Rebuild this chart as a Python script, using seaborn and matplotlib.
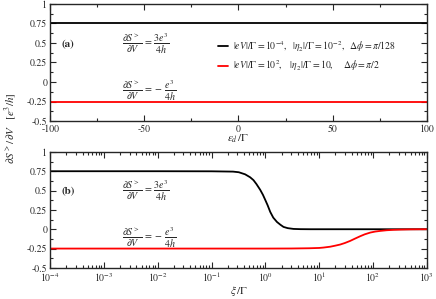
import numpy as np
import pandas as pd
import seaborn as sns
import matplotlib.pyplot as plt
from matplotlib.ticker import MultipleLocator, LogLocator, NullFormatter

# panel (a): flat lines vs eps_d / Gamma
eps = [-100, -50, 0, 50, 100]
a_black = [0.75, 0.75, 0.75, 0.75, 0.75]
a_red = [-0.25, -0.25, -0.25, -0.25, -0.25]
eps_ticks = [-100, -50, 0, 50, 100]

# panel (b): curves vs xi / Gamma
xi_black = [1e-4, 1e-3, 1e-2, 1e-1, 0.25, 0.32, 0.42, 0.52, 0.6, 0.68, 0.8, 0.9,
            1.0, 1.1, 1.23, 1.4, 1.64, 1.9, 2.17, 2.6, 3.33, 4.5, 7, 20, 1e2, 1e3]
b_black = [0.75, 0.75, 0.75, 0.749, 0.745, 0.737, 0.71, 0.672, 0.635, 0.585, 0.51, 0.445,
           0.375, 0.31, 0.224, 0.15, 0.094, 0.058, 0.03, 0.014, 0.004, 0.001, 0.0, 0.0, 0.0, 0.0]

xi_red = [1e-4, 1e-2, 1, 3, 6.5, 10, 12, 16, 20, 24.5, 30, 37.6, 46, 57.5, 70, 89,
          110, 135, 180, 240, 320, 490, 1e3]
b_red = [-0.25, -0.25, -0.25, -0.249, -0.246, -0.242, -0.237, -0.226, -0.212, -0.198,
         -0.178, -0.151, -0.122, -0.091, -0.066, -0.043, -0.03, -0.022, -0.013, -0.008,
         -0.005, -0.002, 0.0]

y_ticks = [-0.5, -0.25, 0, 0.25, 0.5, 0.75, 1]
y_labels = ['-0.5', '-0.25', '0', '0.25', '0.5', '0.75', '1']

sns.set_style('ticks')
plt.rcParams['font.family'] = ['STIXGeneral', 'DejaVu Serif']
plt.rcParams['mathtext.fontset'] = 'stix'
plt.rcParams['xtick.direction'] = 'in'
plt.rcParams['ytick.direction'] = 'in'
plt.rcParams['axes.linewidth'] = 1.0

fig = plt.figure(figsize=(4.36, 2.99), dpi=100)
ax1 = fig.add_axes([0.115, 0.595, 0.864, 0.392])
ax2 = fig.add_axes([0.115, 0.104, 0.864, 0.388])

lab_black = r'$|eV|/\Gamma=10^{-4},\ \ |\eta_2|/\Gamma=10^{-2},\ \ \Delta\phi=\pi/128$'
lab_red = r'$|eV|/\Gamma=10^{2},\ \ \ |\eta_2|/\Gamma=10,\ \ \ \ \Delta\phi=\pi/2$'

sns.lineplot(x=eps, y=a_black, ax=ax1, color='black', lw=1.3, label=lab_black)
sns.lineplot(x=eps, y=a_red, ax=ax1, color='red', lw=1.3, label=lab_red)
sns.lineplot(x=xi_black, y=b_black, ax=ax2, color='black', lw=1.3, legend=False)
sns.lineplot(x=xi_red, y=b_red, ax=ax2, color='red', lw=1.3, legend=False)

ax1.set_xlim(-100, 100)
ax1.set_xticks(eps_ticks)
ax1.set_xticklabels([str(t) for t in eps_ticks])
ax1.xaxis.set_minor_locator(MultipleLocator(25))
ax2.set_xscale('log')
ax2.set_xlim(1e-4, 1e3)
ax2.xaxis.set_major_locator(LogLocator(base=10, numticks=20))
ax2.xaxis.set_minor_locator(LogLocator(base=10, subs=np.arange(2, 10), numticks=20))
ax2.xaxis.set_minor_formatter(NullFormatter())

for ax in (ax1, ax2):
    ax.set_ylim(-0.5, 1)
    ax.set_yticks(y_ticks)
    ax.set_yticklabels(y_labels)
    ax.yaxis.set_minor_locator(MultipleLocator(0.125))
    ax.tick_params(which='both', top=True, right=True, labelsize=7, pad=2, width=0.8)
    ax.tick_params(which='major', length=4)
    ax.tick_params(which='minor', length=2)

eq_up = r'$\dfrac{\partial S^{>}}{\partial V}\,=\,\dfrac{3e^3}{4h}$'
eq_dn = r'$\dfrac{\partial S^{>}}{\partial V}\,=\,-\,\dfrac{e^3}{4h}$'
for ax in (ax1, ax2):
    ax.text(0.03, 0.655, '(a)' if ax is ax1 else '(b)', transform=ax.transAxes,
            fontsize=8, fontweight='bold', va='center')
    ax.text(0.19, 0.66, eq_up, transform=ax.transAxes, fontsize=7.2, va='center')
    ax.text(0.19, 0.255, eq_dn, transform=ax.transAxes, fontsize=7.2, va='center')

ax1.legend(loc='center left', bbox_to_anchor=(0.435, 0.555), frameon=False,
           fontsize=7, handlelength=1.0, handletextpad=0.6, labelspacing=0.45,
           borderaxespad=0)

ax1.set_xlabel(r'$\varepsilon_d\,/\Gamma$', fontsize=8, labelpad=-1)
ax2.set_xlabel(r'$\xi\,/\Gamma$', fontsize=8, labelpad=0)
ax1.set_ylabel('')
ax2.set_ylabel('')
fig.text(0.025, 0.57, r'$\partial S^{>}/\,\partial V\ \ \ [e^3/h]$', rotation=90,
         fontsize=8, ha='center', va='center')

fig.savefig('out.png', dpi=100)
